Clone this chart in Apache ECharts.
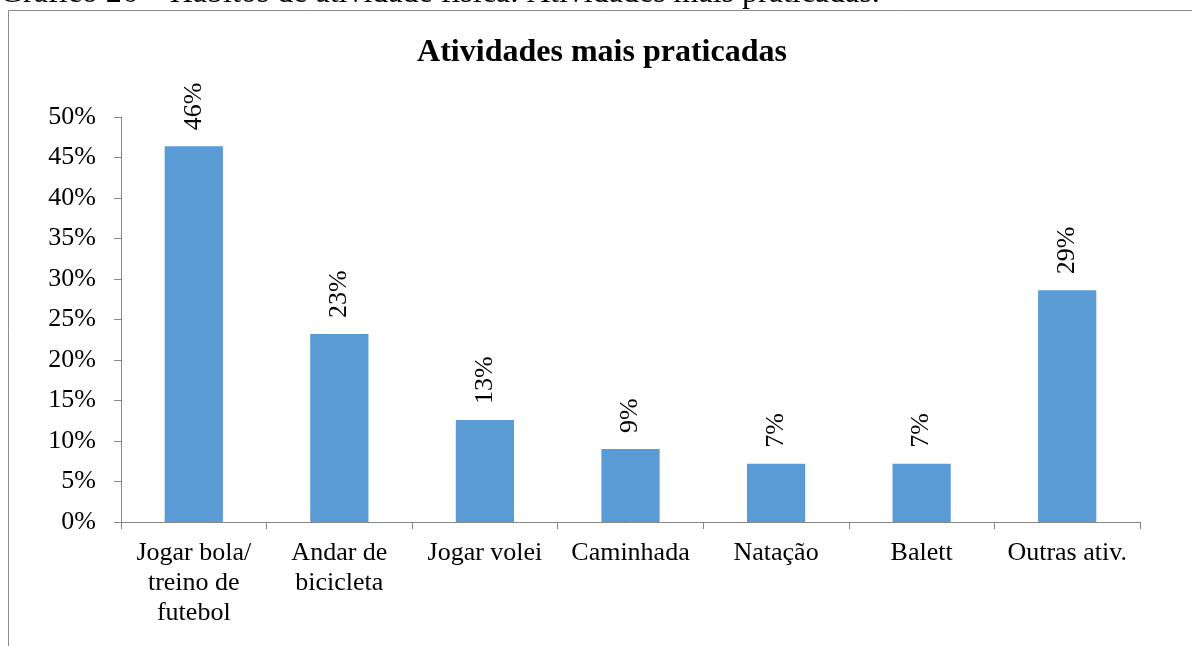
<!DOCTYPE html>
<html><head><meta charset="utf-8">
<script src="https://cdn.jsdelivr.net/npm/echarts@6/dist/echarts.min.js"></script>
<style>html,body{margin:0;padding:0;background:#fff}#c{width:1192px;height:646px}</style>
</head><body><div id="c"></div>
<script>
var categories = ['Jogar bola/\ntreino de\nfutebol', 'Andar de\nbicicleta', 'Jogar volei', 'Caminhada', 'Natação', 'Balett', 'Outras ativ.'];
var values = [46.4, 23.2, 12.6, 9.0, 7.2, 7.2, 28.6];
var yTicks = [0, 5, 10, 15, 20, 25, 30, 35, 40, 45, 50];
var F = '"Liberation Serif","Times New Roman",serif';
var chart = echarts.init(document.getElementById('c'));
chart.setOption({
  animation: false,
  grid: {left: 121, right: 52, top: 117, bottom: 124, containLabel: false},
  graphic: [
    {type: 'rect', shape: {x: 8.5, y: 10.5, width: 1300, height: 700}, style: {fill: 'none', stroke: '#8c8c8c', lineWidth: 1}},
    {type: 'text', x: 0, y: 10, style: {text: 'Gráfico 26 – Hábitos de atividade física: Atividades mais praticadas.', font: '32px ' + F, fill: '#000', verticalAlign: 'bottom'}},
    {type: 'text', x: 602, y: 53, style: {text: 'Atividades mais praticadas', font: 'bold 32px ' + F, fill: '#000', align: 'center', verticalAlign: 'middle'}}
  ],
  xAxis: {
    type: 'category', data: categories,
    axisLine: {lineStyle: {color: '#868686'}},
    axisTick: {show: true, length: 7, lineStyle: {color: '#868686'}},
    axisLabel: {interval: 0, margin: 16, fontFamily: F, fontSize: 26, color: '#000', lineHeight: 30}
  },
  yAxis: {
    type: 'value', min: 0, max: 50, interval: 5,
    axisLine: {show: true, lineStyle: {color: '#868686'}},
    axisTick: {show: true, length: 7, lineStyle: {color: '#868686'}},
    splitLine: {show: false},
    axisLabel: {margin: 25, fontFamily: F, fontSize: 26, color: '#000', formatter: function (v) { return yTicks.indexOf(v) >= 0 ? v + '%' : ''; }}
  },
  series: [{
    type: 'bar', data: values, barWidth: '40%',
    itemStyle: {color: '#5B9BD5'},
    label: {show: true, position: 'top', rotate: 90, align: 'left', verticalAlign: 'middle', distance: 16,
      fontFamily: F, fontSize: 26, color: '#000',
      formatter: function (p) { return Math.round(p.value) + '%'; }}
  }]
});
</script></body></html>
